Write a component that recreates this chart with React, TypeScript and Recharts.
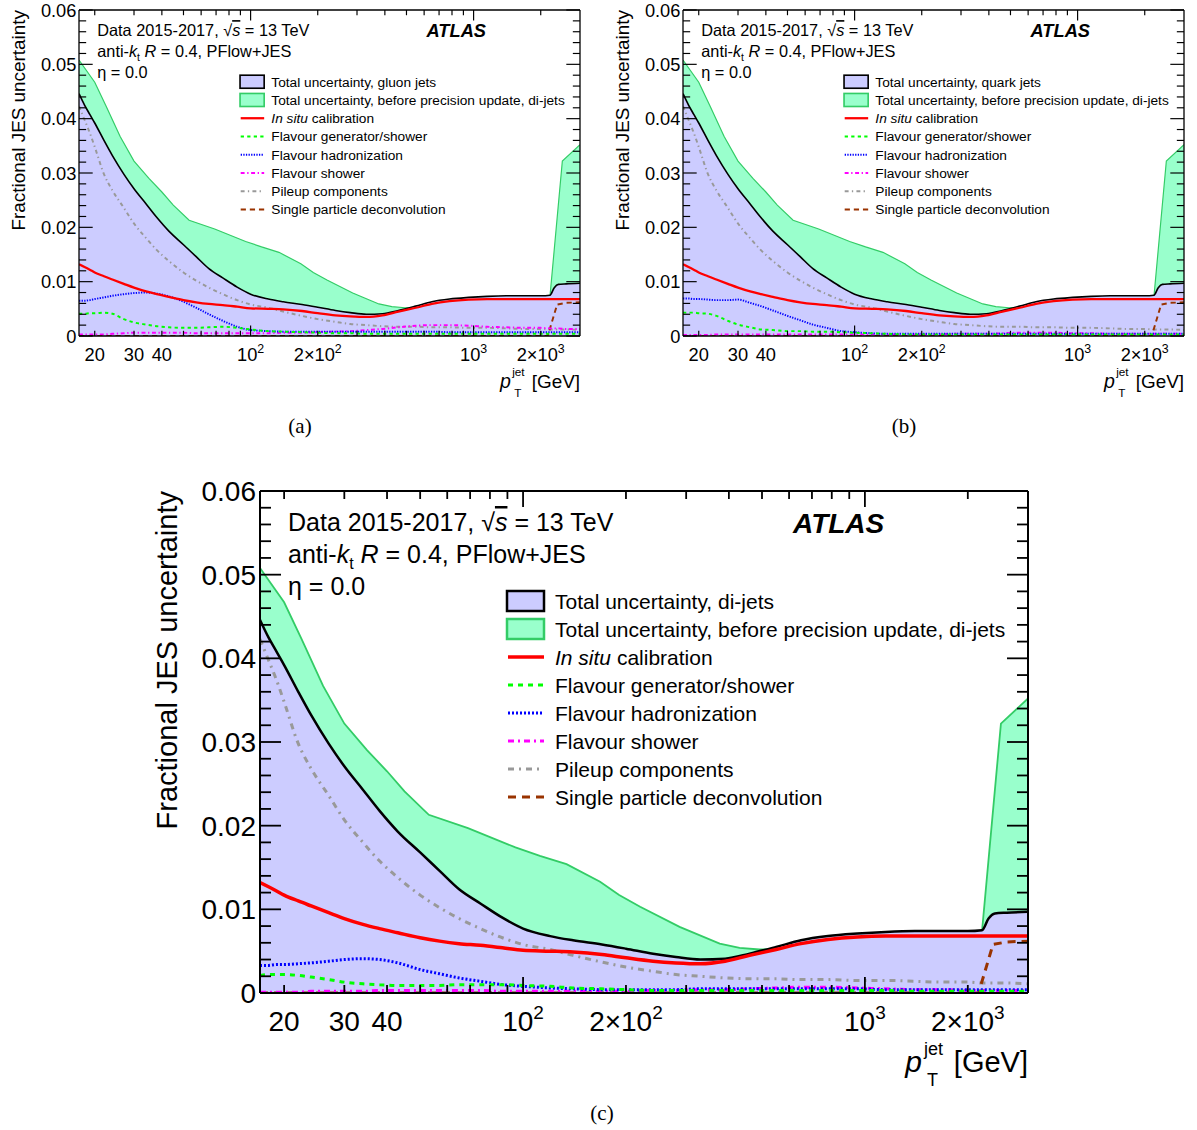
import React from 'react';
import { ComposedChart, Area, Line, XAxis, YAxis } from 'recharts';

const FONT = '"Liberation Sans", Arial, Helvetica, sans-serif';
const SERIF = '"Liberation Serif", "Times New Roman", serif';

// ---------- data (pT in GeV, fractional uncertainty) ----------
const PT = [17, 18, 19, 20, 22, 24, 27, 30, 34, 38, 43, 50, 57, 65, 75, 87, 100, 120, 140, 170,
  200, 240, 280, 330, 390, 460, 550, 650, 780, 950, 1150, 1400, 1700, 2000, 2200, 2300, 2400, 2600, 3000];

const TOTAL = [0.0446, 0.0425, 0.0408, 0.0392, 0.0360, 0.0332, 0.0298, 0.0271, 0.0243, 0.0218,
  0.0193, 0.0168, 0.0146, 0.0124, 0.0107, 0.0090, 0.0077, 0.0068, 0.0063, 0.0058,
  0.0053, 0.0047, 0.0043, 0.0040, 0.0041, 0.0047, 0.0055, 0.0063, 0.0068, 0.0071,
  0.0073, 0.0074, 0.0074, 0.0074, 0.0075, 0.0089, 0.0095, 0.0096, 0.0097];

const IN_SITU = [0.0132, 0.0127, 0.0122, 0.0117, 0.0110, 0.0104, 0.0096, 0.0089, 0.0082, 0.0077,
  0.0072, 0.0066, 0.0062, 0.0059, 0.0057, 0.0054, 0.0051, 0.0050, 0.0049, 0.0046,
  0.0042, 0.0038, 0.0036, 0.0035, 0.0038, 0.0045, 0.0052, 0.0059, 0.0064, 0.0067,
  0.0068, 0.0068, 0.0068, 0.0068, 0.0068, 0.0068, 0.0068, 0.0068, 0.0068];

const PILEUP = [0.0423, 0.0398, 0.0374, 0.0348, 0.0298, 0.0268, 0.0236, 0.0207, 0.0180, 0.0158,
  0.0138, 0.0117, 0.0102, 0.0089, 0.0077, 0.0066, 0.0058, 0.0052, 0.0045, 0.0037,
  0.0031, 0.0026, 0.0022, 0.0020, 0.0018, 0.0017, 0.0017, 0.0016, 0.0016, 0.0015,
  0.0015, 0.0014, 0.0013, 0.0013, 0.0012, 0.0012, 0.0012, 0.0012, 0.0011];

const PT_BEFORE = [17, 20, 22.5, 26, 30, 35, 40, 45, 53, 69, 95, 112, 134, 168, 191, 220, 287, 376, 430, 492,
  560, 650, 800, 1000, 1400, 2200, 2500, 3000];
const BEFORE = [0.0508, 0.0467, 0.0423, 0.0367, 0.0322, 0.0290, 0.0265, 0.0241, 0.0213, 0.0197, 0.0174, 0.0164,
  0.0154, 0.0133, 0.0117, 0.0103, 0.0079, 0.0059, 0.0054, 0.0052,
  0.0053, 0.0060, 0.0067, 0.0070, 0.0073, 0.0073, 0.0322, 0.0352];

const PT_SPD = [17, 2150, 2370, 2600, 3000];
const SPD = [0, 0, 0.0058, 0.0061, 0.0062];

// (a) gluon jets
const HAD_A = [0.0065, 0.0065, 0.0066, 0.0068, 0.0071, 0.0074, 0.0077, 0.0079, 0.0080, 0.0078,
  0.0073, 0.0063, 0.0052, 0.0040, 0.0028, 0.0017, 0.0011, 0.0009, 0.0008, 0.0008,
  0.0008, 0.0008, 0.0008, 0.0008, 0.0008, 0.0008, 0.0008, 0.0008, 0.0007, 0.0007,
  0.0007, 0.0007, 0.0007, 0.0007, 0.0007, 0.0007, 0.0007, 0.0007, 0.0007];
const GEN_A = [0.0041, 0.0041, 0.0042, 0.0042, 0.0043, 0.0041, 0.0031, 0.0025, 0.0021, 0.0018,
  0.0016, 0.0015, 0.0015, 0.0016, 0.0017, 0.0015, 0.0012, 0.0009, 0.0008, 0.0007,
  0.0006, 0.0005, 0.0005, 0.0004, 0.0004, 0.0004, 0.0004, 0.0004, 0.0004, 0.0004,
  0.0004, 0.0004, 0.0004, 0.0004, 0.0004, 0.0004, 0.0004, 0.0004, 0.0004];
const SHW_A = [0.0003, 0.0003, 0.0003, 0.0003, 0.0003, 0.0004, 0.0005, 0.0006, 0.0006, 0.0006,
  0.0006, 0.0006, 0.0005, 0.0005, 0.0005, 0.0005, 0.0005, 0.0005, 0.0006, 0.0006,
  0.0007, 0.0008, 0.0009, 0.0011, 0.0013, 0.0016, 0.0019, 0.0020, 0.0020, 0.0019,
  0.0017, 0.0016, 0.0015, 0.0015, 0.0014, 0.0014, 0.0014, 0.0013, 0.0013];

// (b) quark jets
const HAD_B = [0.0069, 0.0069, 0.0068, 0.0068, 0.0067, 0.0066, 0.0066, 0.0067, 0.0061, 0.0055,
  0.0047, 0.0037, 0.0029, 0.0021, 0.0015, 0.0009, 0.0007, 0.0005, 0.0004, 0.0004,
  0.0004, 0.0004, 0.0004, 0.0004, 0.0004, 0.0004, 0.0004, 0.0004, 0.0004, 0.0004,
  0.0004, 0.0004, 0.0004, 0.0004, 0.0004, 0.0004, 0.0004, 0.0004, 0.0004];
const GEN_B = [0.0043, 0.0043, 0.0043, 0.0042, 0.0041, 0.0037, 0.0028, 0.0021, 0.0016, 0.0012,
  0.0011, 0.0009, 0.0009, 0.0008, 0.0008, 0.0007, 0.0006, 0.0005, 0.0004, 0.0003,
  0.0003, 0.0003, 0.0003, 0.0003, 0.0003, 0.0003, 0.0003, 0.0003, 0.0003, 0.0003,
  0.0003, 0.0003, 0.0003, 0.0003, 0.0003, 0.0003, 0.0003, 0.0003, 0.0003];
const SHW_B = [0.0002, 0.0002, 0.0002, 0.0002, 0.0002, 0.0003, 0.0003, 0.0003, 0.0003, 0.0003,
  0.0003, 0.0003, 0.0003, 0.0003, 0.0003, 0.0003, 0.0003, 0.0003, 0.0003, 0.0003,
  0.0003, 0.0003, 0.0004, 0.0004, 0.0004, 0.0005, 0.0006, 0.0006, 0.0006, 0.0005,
  0.0005, 0.0004, 0.0004, 0.0004, 0.0004, 0.0004, 0.0004, 0.0004, 0.0004];

// (c) di-jets
const HAD_C = [0.0033, 0.0033, 0.0034, 0.0034, 0.0035, 0.0036, 0.0038, 0.0040, 0.0041, 0.0040,
  0.0036, 0.0028, 0.0023, 0.0018, 0.0014, 0.0010, 0.0008, 0.0006, 0.0005, 0.0004,
  0.0004, 0.0004, 0.0004, 0.0005, 0.0005, 0.0005, 0.0005, 0.0005, 0.0005, 0.0005,
  0.0004, 0.0004, 0.0004, 0.0004, 0.0004, 0.0004, 0.0004, 0.0004, 0.0004];
const GEN_C = [0.0021, 0.0022, 0.0022, 0.0022, 0.0021, 0.0019, 0.0016, 0.0013, 0.0011, 0.0010,
  0.0009, 0.0009, 0.0009, 0.0010, 0.0010, 0.0010, 0.0009, 0.0008, 0.0006, 0.0005,
  0.0004, 0.0003, 0.0003, 0.0003, 0.0003, 0.0003, 0.0003, 0.0003, 0.0003, 0.0003,
  0.0003, 0.0002, 0.0002, 0.0002, 0.0002, 0.0002, 0.0002, 0.0002, 0.0002];
const SHW_C = [0.0001, 0.0001, 0.0001, 0.0001, 0.0001, 0.0002, 0.0002, 0.0002, 0.0002, 0.0003,
  0.0003, 0.0003, 0.0003, 0.0003, 0.0003, 0.0002, 0.0002, 0.0002, 0.0002, 0.0002,
  0.0002, 0.0003, 0.0003, 0.0004, 0.0004, 0.0005, 0.0006, 0.0007, 0.0007, 0.0006,
  0.0005, 0.0004, 0.0004, 0.0003, 0.0003, 0.0003, 0.0003, 0.0003, 0.0003];

// ---------- ticks ----------
const X_MAJOR = [100, 1000];
const X_TICKS = [20, 30, 40, 50, 60, 70, 80, 90, 100, 200, 300, 400, 500, 600, 700, 800, 900, 1000, 2000];
const X_LABEL_VALUES = [20, 30, 40, 100, 200, 1000, 2000];
const X_LABEL_MANT = ['20', '30', '40', '10', '2\u00d710', '10', '2\u00d710'];
const X_LABEL_EXP = ['', '', '', '2', '2', '3', '3'];
const Y_LABEL_VALUES = [0, 0.01, 0.02, 0.03, 0.04, 0.05, 0.06];
const Y_LABELS = ['0', '0.01', '0.02', '0.03', '0.04', '0.05', '0.06'];
const Y_TICKS = Array.from({ length: 31 }, (_, i) => i * 0.002);

const LEGEND_LABELS = ['Total uncertainty, before precision update, di-jets', 'calibration',
  'Flavour generator/shower', 'Flavour hadronization', 'Flavour shower', 'Pileup components',
  'Single particle deconvolution'];

const C_LAV = '#ccccff';
const C_GREENFILL = '#99ffcc';
const C_GREENLINE = '#33cc66';

const toData = (xs: number[], ys: number[]) => xs.map((pt, i) => ({ pt, v: ys[i] }));

function renderXTick(props: any, s: number, side: 'bottom' | 'top') {
  const { x, y, payload } = props;
  const v = payload.value;
  const major = X_MAJOR.includes(v);
  const len = (major ? 16 : 8) * s;
  const dir = side === 'bottom' ? -1 : 1;
  const li = X_LABEL_VALUES.indexOf(v);
  return (
    <g key={`${side}-${v}`}>
      <line x1={x} x2={x} y1={y} y2={y + dir * len} stroke="#000" strokeWidth={1.8 * s} />
      {side === 'bottom' && li >= 0 && (
        <text x={x} y={y + 38 * s} textAnchor="middle" fontSize={28 * s} fontFamily={FONT} fill="#000">
          {X_LABEL_MANT[li]}
          {X_LABEL_EXP[li] ? <tspan fontSize={19 * s} dy={-12 * s}>{X_LABEL_EXP[li]}</tspan> : null}
        </text>
      )}
    </g>
  );
}

function renderYTick(props: any, s: number, side: 'left' | 'right') {
  const { x, y, payload } = props;
  const v = payload.value;
  const major = Math.abs(v * 100 - Math.round(v * 100)) < 1e-6;
  const len = (major ? 21 : 11) * s;
  const dir = side === 'left' ? 1 : -1;
  const li = major ? Y_LABEL_VALUES.findIndex((u) => Math.abs(u - v) < 1e-9) : -1;
  return (
    <g key={`${side}-${v}`}>
      <line x1={x} x2={x + dir * len} y1={y} y2={y} stroke="#000" strokeWidth={1.8 * s} />
      {side === 'left' && li >= 0 && (
        <text x={x - 4 * s} y={y} dy="0.36em" textAnchor="end" fontSize={28 * s} fontFamily={FONT} fill="#000">
          {Y_LABELS[li]}
        </text>
      )}
    </g>
  );
}

type PanelProps = { left: number; top: number; w: number; h: number; s: number; had: number[]; gen: number[]; shw: number[] };

function Panel({ left, top, w, h, s, had, gen, shw }: PanelProps) {
  const ML = 8, MR = 8, MT = 8, MB = 8;
  const W = w + ML + MR + 2;
  const H = h + MT + MB + 2;
  const axisLine = { stroke: '#000', strokeWidth: 2 * s };
  const common = { type: 'number' as const, allowDataOverflow: true, interval: 0 as const, tickLine: false, tickSize: 0, tickMargin: 0, axisLine };
  return (
    <div style={{ position: 'absolute', left: left - ML - 1, top: top - MT - 1, width: W, height: H }}>
      <ComposedChart width={W} height={H} margin={{ left: ML, right: MR, top: MT, bottom: MB }}>
        <XAxis xAxisId="b" orientation="bottom" dataKey="pt" scale="log" domain={[17, 3000]} height={1} ticks={X_TICKS}
          {...common} tick={(p: any) => renderXTick(p, s, 'bottom')} />
        <XAxis xAxisId="t" orientation="top" dataKey="pt" scale="log" domain={[17, 3000]} height={1} ticks={X_TICKS}
          {...common} tick={(p: any) => renderXTick(p, s, 'top')} />
        <YAxis yAxisId="l" orientation="left" domain={[0, 0.06]} width={1} ticks={Y_TICKS}
          {...common} tick={(p: any) => renderYTick(p, s, 'left')} />
        <YAxis yAxisId="r" orientation="right" domain={[0, 0.06]} width={1} ticks={Y_TICKS}
          {...common} tick={(p: any) => renderYTick(p, s, 'right')} />
        <Area xAxisId="b" yAxisId="l" data={toData(PT_BEFORE, BEFORE)} dataKey="v" type="linear"
          fill={C_GREENFILL} fillOpacity={1} stroke={C_GREENLINE} strokeWidth={1.8 * s} isAnimationActive={false} dot={false} activeDot={false} />
        <Area xAxisId="b" yAxisId="l" data={toData(PT, TOTAL)} dataKey="v" type="monotone"
          fill={C_LAV} fillOpacity={1} stroke="#000" strokeWidth={2.5 * s} isAnimationActive={false} dot={false} activeDot={false} />
        <Line xAxisId="b" yAxisId="l" data={toData(PT, PILEUP)} dataKey="v" type="monotone" stroke="#999999"
          strokeWidth={3 * s} strokeDasharray={`${6 * s} ${5 * s} ${2 * s} ${5 * s}`} dot={false} activeDot={false} isAnimationActive={false} />
        <Line xAxisId="b" yAxisId="l" data={toData(PT_SPD, SPD)} dataKey="v" type="linear" stroke="#993300"
          strokeWidth={3 * s} strokeDasharray={`${8 * s} ${6 * s}`} dot={false} activeDot={false} isAnimationActive={false} />
        <Line xAxisId="b" yAxisId="l" data={toData(PT, shw)} dataKey="v" type="monotone" stroke="#ff00ff"
          strokeWidth={3 * s} strokeDasharray={`${6 * s} ${4 * s} ${2 * s} ${4 * s}`} dot={false} activeDot={false} isAnimationActive={false} />
        <Line xAxisId="b" yAxisId="l" data={toData(PT, had)} dataKey="v" type="monotone" stroke="#0000ff"
          strokeWidth={3 * s} strokeDasharray={`${2 * s} ${2 * s}`} dot={false} activeDot={false} isAnimationActive={false} />
        <Line xAxisId="b" yAxisId="l" data={toData(PT, gen)} dataKey="v" type="monotone" stroke="#00ff00"
          strokeWidth={3 * s} strokeDasharray={`${5 * s} ${5 * s}`} dot={false} activeDot={false} isAnimationActive={false} />
        <Line xAxisId="b" yAxisId="l" data={toData(PT, IN_SITU)} dataKey="v" type="monotone" stroke="#ff0000"
          strokeWidth={3.5 * s} dot={false} activeDot={false} isAnimationActive={false} />
      </ComposedChart>
    </div>
  );
}

type AnnProps = { left: number; top: number; s: number; w: number; h: number; first: string };

function Annotations({ left, top, s, w, h, first }: AnnProps) {
  // drawn in panel-(c) units, scaled by s
  const W = w / s;
  const H = h / s;
  const rows = [110, 138, 166, 194, 222, 250, 278, 306];
  const lx1 = 248, lx2 = 284, tx = 295;
  const lineStyles = [
    { stroke: '#ff0000', dash: undefined, width: 3.5 },
    { stroke: '#00ff00', dash: '5 5', width: 3 },
    { stroke: '#0000ff', dash: '2 2', width: 3 },
    { stroke: '#ff00ff', dash: '6 4 2 4', width: 3 },
    { stroke: '#999999', dash: '6 5 2 5', width: 3 },
    { stroke: '#993300', dash: '8 6', width: 3 },
  ];
  return (
    <g transform={`translate(${left},${top}) scale(${s})`} fontFamily={FONT} fill="#000">
      {/* y title */}
      <text transform="translate(-93,0) rotate(-90)" textAnchor="end" dominantBaseline="central" fontSize={29}>
        Fractional JES uncertainty
      </text>
      {/* x title */}
      <text x={W} y={H + 79} textAnchor="end" fontSize={29}>[GeV]</text>
      <text x={W - 106} y={H + 79} textAnchor="end" fontSize={30} fontStyle="italic">p</text>
      <text x={W - 104} y={H + 62} fontSize={18}>jet</text>
      <text x={W - 101} y={H + 93} fontSize={18}>T</text>
      {/* header */}
      <text x={28} y={40} fontSize={25}>
        Data 2015-2017, {'\u221A'}<tspan fontStyle="italic" textDecoration="overline">s</tspan> = 13 TeV
      </text>
      <text x={28} y={72} fontSize={25}>
        anti-<tspan fontStyle="italic">k</tspan><tspan fontSize={16} dy={6}>t</tspan>
        <tspan dy={-6} fontStyle="italic">{'  R'}</tspan> = 0.4, PFlow+JES
      </text>
      <text x={28} y={104} fontSize={25}>{'\u03B7 = 0.0'}</text>
      <text x={533} y={42} fontSize={28} fontWeight="bold" fontStyle="italic">ATLAS</text>
      {/* legend */}
      <rect x={247} y={rows[0] - 10} width={37} height={20} fill={C_LAV} stroke="#000" strokeWidth={2.5} />
      <text x={tx} y={rows[0] + 7.5} fontSize={21}>{first}</text>
      <rect x={247} y={rows[1] - 10} width={37} height={20} fill={C_GREENFILL} stroke={C_GREENLINE} strokeWidth={2.5} />
      <text x={tx} y={rows[1] + 7.5} fontSize={21}>{LEGEND_LABELS[0]}</text>
      {lineStyles.map((ls, i) => (
        <g key={i}>
          <line x1={lx1} x2={lx2} y1={rows[i + 2]} y2={rows[i + 2]} stroke={ls.stroke} strokeWidth={ls.width} strokeDasharray={ls.dash} />
          <text x={tx} y={rows[i + 2] + 7.5} fontSize={21}>
            {i === 0 ? (<><tspan fontStyle="italic">In situ</tspan> {LEGEND_LABELS[1]}</>) : LEGEND_LABELS[i + 1]}
          </text>
        </g>
      ))}
    </g>
  );
}

const PANELS = [
  { left: 79, top: 10, w: 501, h: 326, s: 0.652, had: HAD_A, gen: GEN_A, shw: SHW_A, first: 'Total uncertainty, gluon jets', cap: '(a)', capX: 300, capY: 433 },
  { left: 683, top: 10, w: 501, h: 326, s: 0.652, had: HAD_B, gen: GEN_B, shw: SHW_B, first: 'Total uncertainty, quark jets', cap: '(b)', capX: 904, capY: 433 },
  { left: 260, top: 491, w: 768, h: 502, s: 1, had: HAD_C, gen: GEN_C, shw: SHW_C, first: 'Total uncertainty, di-jets', cap: '(c)', capX: 602, capY: 1120 },
];

export default function App() {
  return (
    <div style={{ position: 'absolute', left: 0, top: 0, width: 1197, height: 1130, background: '#fff', overflow: 'hidden' }}>
      <style>{'.recharts-surface{overflow:visible}'}</style>
      {PANELS.map((p) => (
        <Panel key={p.cap} left={p.left} top={p.top} w={p.w} h={p.h} s={p.s} had={p.had} gen={p.gen} shw={p.shw} />
      ))}
      <svg width={1197} height={1130} style={{ position: 'absolute', left: 0, top: 0, pointerEvents: 'none' }}>
        {PANELS.map((p) => (
          <g key={p.cap}>
            <Annotations left={p.left} top={p.top} s={p.s} w={p.w} h={p.h} first={p.first} />
            <text x={p.capX} y={p.capY} textAnchor="middle" fontFamily={SERIF} fontSize={21}>{p.cap}</text>
          </g>
        ))}
      </svg>
    </div>
  );
}
